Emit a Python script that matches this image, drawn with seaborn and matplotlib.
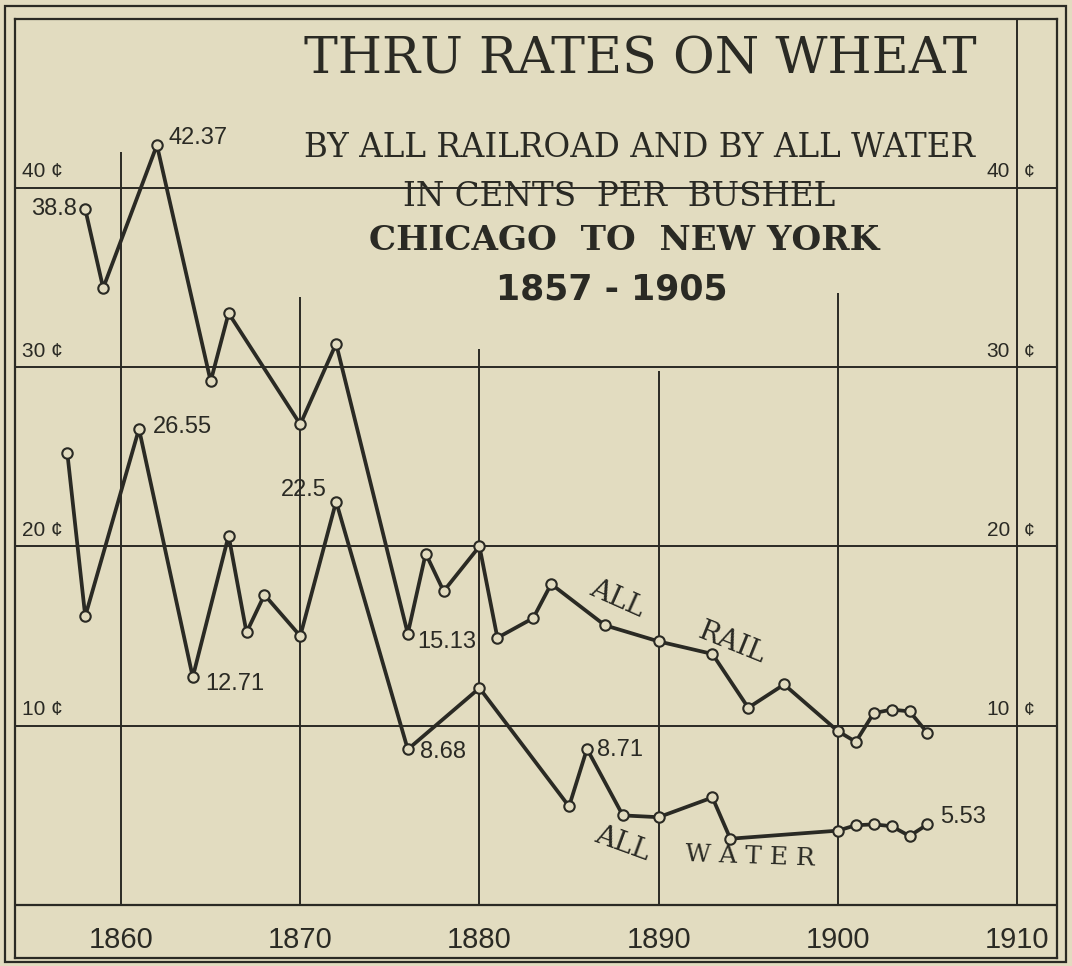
import pandas as pd
import matplotlib.pyplot as plt
import seaborn as sns
from matplotlib.patches import Rectangle

# Thru rates on wheat, Chicago to New York, cents per bushel
rail_years = [1858, 1859, 1862, 1865, 1866, 1870, 1872, 1876, 1877, 1878, 1880, 1881,
              1883, 1884, 1887, 1890, 1893, 1895, 1897, 1900, 1901, 1902, 1903, 1904, 1905]
rail_rates = [38.8, 34.4, 42.37, 29.2, 33.0, 26.8, 31.3, 15.13, 19.6, 17.5, 20.0, 14.9,
              16.0, 17.9, 15.6, 14.7, 14.0, 11.0, 12.3, 9.7, 9.1, 10.7, 10.9, 10.8, 9.6]

water_years = [1857, 1858, 1861, 1864, 1866, 1867, 1868, 1870, 1872, 1876, 1880, 1885,
               1886, 1888, 1890, 1893, 1894, 1900, 1901, 1902, 1903, 1904, 1905]
water_rates = [25.2, 16.1, 26.55, 12.71, 20.6, 15.2, 17.3, 15.0, 22.5, 8.68, 12.1, 5.5,
               8.71, 5.0, 4.9, 6.0, 3.7, 4.15, 4.45, 4.5, 4.4, 3.85, 4.5]

# labelled points: (year, rate, text, offset in points, alignment)
labels = [
    (1858, 38.8, "38.8", (-6, 0), "right"),
    (1862, 42.37, "42.37", (8, 5), "left"),
    (1861, 26.55, "26.55", (10, 1), "left"),
    (1864, 12.71, "12.71", (9, -5), "left"),
    (1872, 22.5, "22.5", (-7, 8), "right"),
    (1876, 15.13, "15.13", (7, -6), "left"),
    (1876, 8.68, "8.68", (9, -2), "left"),
    (1886, 8.71, "8.71", (7, -1), "left"),
    (1905, 4.5, "5.53", (9, 5), "left"),
]

year_ticks = [1860, 1870, 1880, 1890, 1900, 1910]
cent_ticks = [10, 20, 30, 40]
# how far up each year line is drawn (stops short of the titles)
year_line_tops = [42.0, 33.9, 31.0, 29.8, 34.1, 49.4]

paper = "#e2dcc0"
ink = "#2a2a24"

sns.set_theme(style="white")
plt.rcParams["font.family"] = ["Liberation Sans", "DejaVu Sans"]

fig = plt.figure(figsize=(10.72, 9.66), dpi=100, facecolor=paper)
ax = fig.add_axes([15 / 1072, 8 / 966, 1042 / 1072, 939 / 966])
ax.set_facecolor(paper)

df = pd.concat([
    pd.DataFrame({"year": rail_years, "rate": rail_rates, "route": "All rail"}),
    pd.DataFrame({"year": water_years, "rate": water_rates, "route": "All water"}),
])

# grid
for c in cent_ticks:
    ax.axhline(c, color=ink, lw=1.4, zorder=1)
ax.axhline(0, color=ink, lw=1.6, zorder=1)
ax.vlines(year_ticks, 0, year_line_tops, color=ink, lw=1.4, zorder=1)

sns.lineplot(data=df, x="year", y="rate", hue="route", palette=[ink, ink],
             estimator=None, sort=False, legend=False, ax=ax,
             linewidth=2.7, marker="o", markersize=7.5,
             markerfacecolor=paper, markeredgecolor=ink, markeredgewidth=1.5, zorder=3)

ax.set_xlim(1854.08, 1912.23)
ax.set_ylim(-2.95, 49.4)
ax.set_xticks([])
ax.set_yticks([])
ax.set_xlabel("")
ax.set_ylabel("")
for s in ax.spines.values():
    s.set_color(ink)
    s.set_linewidth(1.6)

# point labels
for yr, val, txt, off, ha in labels:
    ax.annotate(txt, (yr, val), xytext=off, textcoords="offset points",
                ha=ha, va="center", fontsize=17, color=ink, zorder=4)

# year labels in the bottom band
for yr in year_ticks:
    ax.text(yr, -1.95, str(yr), ha="center", va="center", fontsize=21, color=ink)

# cent labels, both sides
for c in cent_ticks:
    ax.text(1854.45, c + 0.35, f"{c} \u00a2", ha="left", va="bottom", fontsize=15, color=ink)
    ax.text(1909.6, c + 0.35, str(c), ha="right", va="bottom", fontsize=15, color=ink)
    ax.text(1910.4, c + 0.35, "\u00a2", ha="left", va="bottom", fontsize=14, color=ink)

# series names
serif = "DejaVu Serif"
ax.text(1887.7, 17.1, "ALL", family=serif, fontsize=20, rotation=-24, ha="center", va="center", color=ink)
ax.text(1894.1, 14.6, "RAIL", family=serif, fontsize=20, rotation=-22, ha="center", va="center", color=ink)
ax.text(1888.0, 3.4, "ALL", family=serif, fontsize=20, rotation=-20, ha="center", va="center", color=ink)
ax.text(1895.1, 2.7, "W A T E R", family=serif, fontsize=18, rotation=-2, ha="center", va="center", color=ink)

# titles
def fx(px):
    return px / 1072

def fy(py):
    return 1 - py / 966

fig.text(fx(640), fy(60), "THRU RATES ON WHEAT", family=serif,
         fontsize=36.5, ha="center", va="center", color=ink)
fig.text(fx(640), fy(148), "BY ALL RAILROAD AND BY ALL WATER", family=serif,
         fontsize=23.5, ha="center", va="center", color=ink)
fig.text(fx(619), fy(197), "IN CENTS  PER  BUSHEL", family=serif,
         fontsize=23.5, ha="center", va="center", color=ink)
fig.text(fx(624), fy(241), "CHICAGO  TO  NEW YORK", family=serif, fontweight="bold",
         fontsize=24.6, ha="center", va="center", color=ink)
fig.text(fx(612), fy(290), "1857 - 1905", family="DejaVu Sans", fontweight="bold",
         fontsize=25, ha="center", va="center", color=ink)

# outer frame
fig.patches.append(Rectangle((fx(5), fy(962)), fx(1061), 956 / 966, transform=fig.transFigure,
                             fill=False, edgecolor=ink, lw=1.6))

fig.savefig("out.png", dpi=100, facecolor=paper)
